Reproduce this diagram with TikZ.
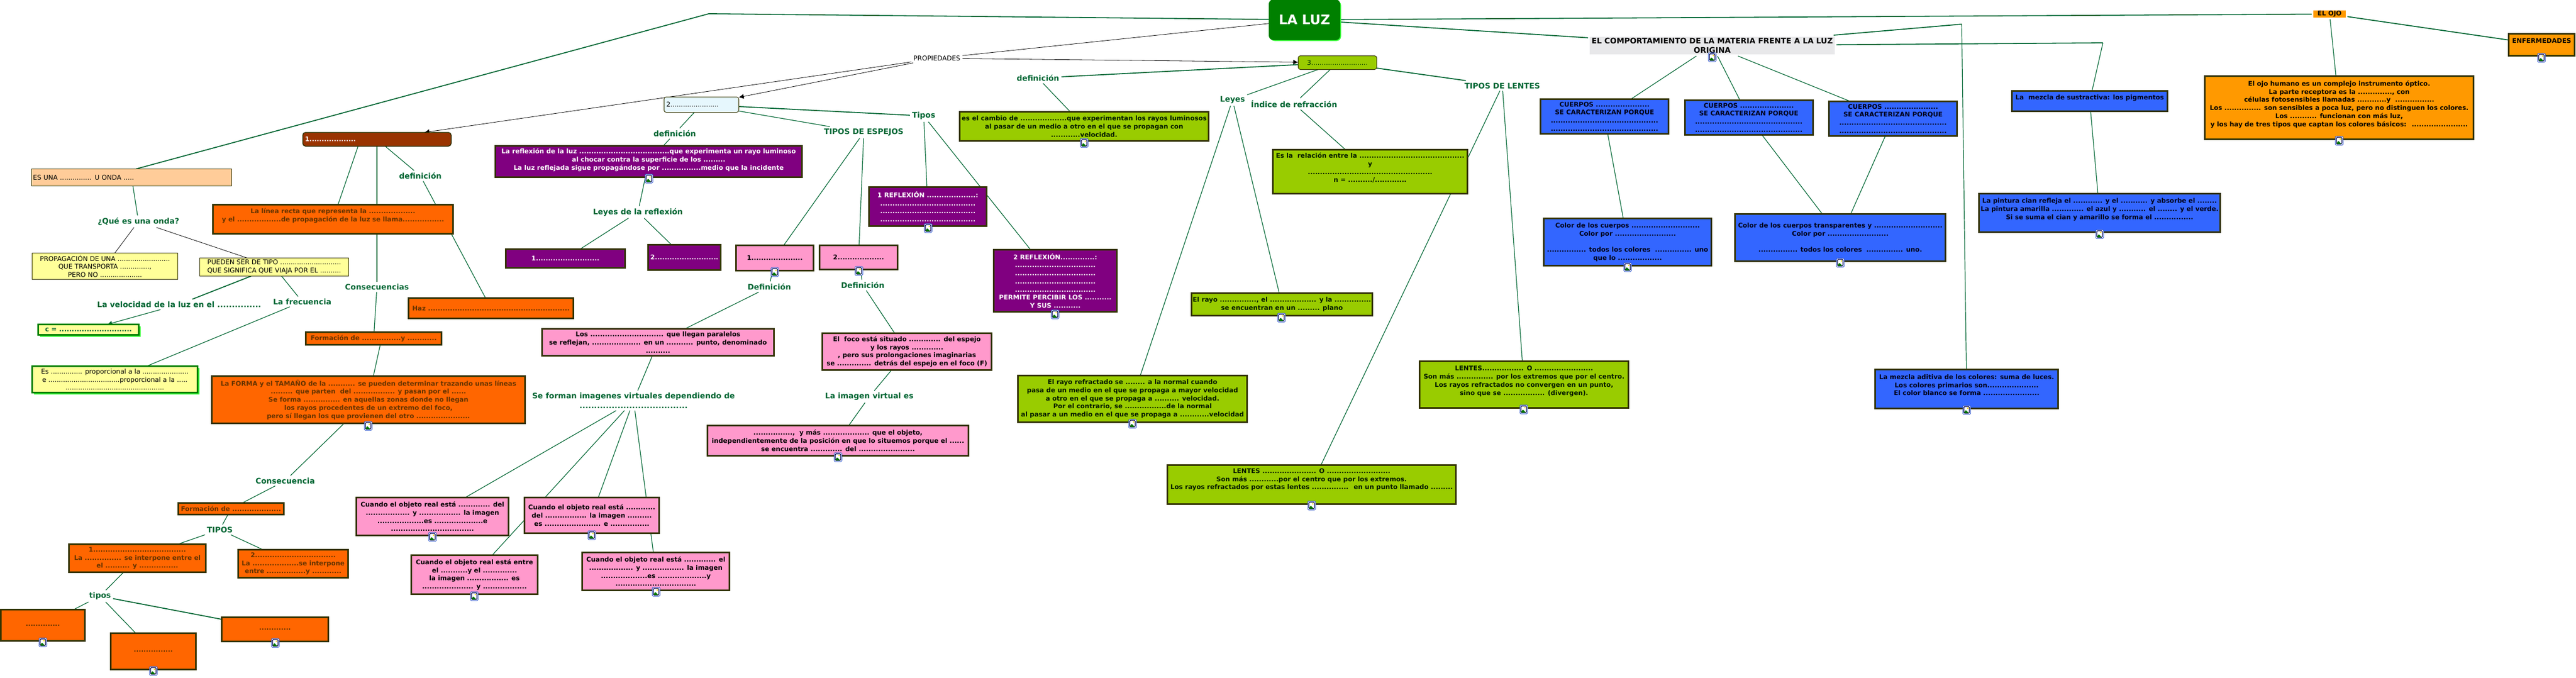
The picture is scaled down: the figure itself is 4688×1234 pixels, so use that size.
\documentclass[tikz,border=0pt]{standalone}
\usepackage{fontspec}
\setmainfont{DejaVu Sans}
\usetikzlibrary{arrows.meta,shadows}
\definecolor{borde}{HTML}{333300}
\definecolor{verdeos}{HTML}{006633}
\definecolor{naranjaf}{HTML}{FF6600}
\definecolor{marronf}{HTML}{663300}
\definecolor{moradof}{HTML}{800080}
\definecolor{rosaf}{HTML}{FF99CC}
\definecolor{limaf}{HTML}{99CC00}
\definecolor{azulf}{HTML}{3366FF}
\definecolor{ambarf}{HTML}{FF9900}
\definecolor{amarillof}{HTML}{FFFF99}
\definecolor{durazno}{HTML}{FFCC99}
\definecolor{ladrillo}{HTML}{993300}
\definecolor{verdeluz}{HTML}{008000}
\definecolor{sombra}{HTML}{33FF33}
\definecolor{grisf}{HTML}{E8E8EA}
\pgfdeclarelayer{fondo}
\pgfsetlayers{fondo,main}
\tikzset{
  tam/.style 2 args={minimum width=#1pt,minimum height=#2pt},
  caja/.style={draw=borde,line width=3pt,rectangle,inner sep=0pt,outer sep=0pt,align=center,
    font=\fontsize{11.7}{14.7}\selectfont\bfseries},
  naranja/.style={caja,fill=naranjaf,text=marronf},
  morado/.style={caja,fill=moradof,text=white},
  rosa/.style={caja,fill=rosaf,text=black},
  lima/.style={caja,fill=limaf,text=black!90!green},
  azul/.style={caja,fill=azulf,text=black!90!blue},
  ambar/.style={caja,fill=ambarf,text=black},
  amarillo/.style={caja,fill=amarillof,text=black,line width=1pt,font=\fontsize{12}{14.7}\selectfont},
  verdosa/.style={amarillo,draw=verdeluz,line width=3pt,
    drop shadow={shadow xshift=3pt,shadow yshift=-3pt,fill=sombra,opacity=1}},
  etiqueta/.style={text=verdeos,inner sep=1pt,outer sep=3pt,align=center,
    font=\fontsize{14}{18}\selectfont\bfseries},
  linea/.style={draw=verdeos,line width=1.2pt},
  lineag/.style={draw=verdeos,line width=1.8pt},
  negra/.style={draw=black,line width=.8pt},
  flecha/.style={-{Latex[length=9pt,width=9pt]}},
  icono/.style={draw=azulf!80!black,line width=1pt,fill=white,rectangle,rounded corners=1.5pt,
    minimum width=14pt,minimum height=16pt,inner sep=0pt,
    path picture={
      \draw[black!70!blue,line width=1.2pt] ([shift={(2pt,2pt)}]path picture bounding box.south west)
        rectangle ([shift={(-2pt,-2pt)}]path picture bounding box.north east);
      \fill[green!45!black] ([shift={(2pt,2pt)}]path picture bounding box.south west) -- ++(3pt,6pt) -- ++(2pt,-2pt) -- ++(4pt,-4pt) -- cycle;
      \fill[yellow!80!orange] ([shift={(2pt,-5pt)}]path picture bounding box.north) circle (1.5pt);
    }},
}

\begin{document}
\begin{tikzpicture}[x=1pt,y=-1pt]
  \useasboundingbox (0,0) rectangle (4688,1234);

  % centro
  \node[caja,fill=verdeluz,draw=verdeluz,line width=1pt,rounded corners=8pt,text=white,tam={129}{73},
    font=\fontsize{24}{28}\selectfont\bfseries,
    drop shadow={shadow xshift=2pt,shadow yshift=-2pt,fill=sombra,opacity=1}] (luz) at (2374,36) {LA LUZ};
  \node[inner sep=1pt,outer sep=3pt,font=\fontsize{12}{14}\selectfont] (prop) at (1705,106) {PROPIEDADES};
  \coordinate (esqizq) at (1290,25);

  % ondas
  \node[amarillo,fill=durazno,tam={364}{31},text width=359pt,align=left] (peach) at (239.5,323) {ES UNA ............... U ONDA .....};
  \node[etiqueta] (qonda) at (252,403) {¿Qué es una onda?};
  \node[amarillo,tam={265}{48}] (propa) at (191,484.5) {PROPAGACIÓN DE UNA .........................\\QUE TRANSPORTA ..............,\\PERO NO ....................};
  \node[amarillo,tam={271}{33}] (pueden) at (499,486) {PUEDEN SER DE TIPO .............................\\QUE SIGNIFICA QUE VIAJA POR EL ..........};
  \node[etiqueta] (velo) at (326,554) {La velocidad de la luz en el ...............};
  \node[etiqueta] (frec) at (550,549) {La frecuencia};
  \node[verdosa,tam={183}{19},text=verdeos,font=\fontsize{12}{14.7}\selectfont\bfseries] (cvel) at (161,600) {c = .............................};
  \node[verdosa,tam={301}{48}] (espro) at (209,690.5) {Es ............... proporcional a la ......................\\e ..................................proporcional a la .....\\...............................................};

  % propagacion
  \node[caja,fill=ladrillo,text=white,line width=1.5pt,rounded corners=5pt,tam={270}{25},text width=262pt,align=left] (maroon) at (686,253.5) {1...................};
  \node[etiqueta] (defa) at (765,320) {definición};
  \node[naranja,tam={437}{53}] (linearecta) at (606,399) {La línea recta que representa la ...................\\y el ..................de propagación de la luz se llama.................\\~};
  \node[naranja,tam={300}{37}] (haz) at (893.5,561) {Haz ..........................................................};
  \node[etiqueta] (conses) at (686,522) {Consecuencias};
  \node[naranja,tam={247}{23}] (form1) at (680,616) {Formación de ................y ............};
  \node[naranja,tam={570}{86}] (forma) at (670.5,727.5) {La FORMA y el TAMAÑO de la ........... se pueden determinar trazando unas líneas\\......... que parten~ del ................. y pasan por el ......\\Se forma ............... en aquellas zonas donde no llegan\\los rayos procedentes de un extremo del foco,\\pero sí llegan los que provienen del otro ......................};
  \node[etiqueta] (conse) at (519,875) {Consecuencia};
  \node[naranja,tam={192}{21}] (form2) at (420.5,926) {Formación de ....................};
  \node[etiqueta] (tipoa) at (400,964) {TIPOS};
  \node[naranja,tam={249}{51}] (tipo1) at (250,1016) {1......................................\\La ............... se interpone entre el\\el .......... y ................};
  \node[naranja,tam={200}{51}] (tipo2) at (533.5,1026) {2.................................\\La ...................se interpone\\entre ................y ............};
  \node[etiqueta] (tipob) at (182,1085) {tipos};
  \node[naranja,tam={153}{57}] (ta) at (78,1138) {..............};
  \node[naranja,tam={155}{66}] (tb) at (279,1185.5) {................};
  \node[naranja,tam={194}{44}] (tc) at (500.5,1145.5) {.............};

  % reflexion
  \node[caja,fill=white!90!cyan,line width=1pt,rounded corners=4pt,text=black,tam={136}{28},text width=128pt,align=left,
    font=\fontsize{12}{14.7}\selectfont] (luzdos) at (1276.5,190.5) {2.......................};
  \node[etiqueta] (defb) at (1228,243) {definición};
  \node[morado,tam={558}{57}] (reflex) at (1180.5,294) {La reflexión de la luz .....................................que experimenta un rayo luminoso\\al chocar contra la superficie de los .........\\La luz reflejada sigue propagándose por ................medio que la incidente\\[-6pt]~};
  \node[etiqueta] (leyesr) at (1161,386) {Leyes de la reflexión};
  \node[morado,tam={217}{34}] (ley1) at (1029,470.5) {1..........................};
  \node[morado,tam={132}{46}] (ley2) at (1245.5,468.5) {2..........................};
  \node[etiqueta] (espejos) at (1572,241) {TIPOS DE ESPEJOS};
  \node[etiqueta] (tipose) at (1681,211) {Tipos};
  \node[rosa,tam={141}{46}] (esp1) at (1410,469.5) {1.....................};
  \node[rosa,tam={142}{44}] (esp2) at (1562.5,468.5) {2...................};
  \node[etiqueta] (defc) at (1400,522) {Definición};
  \node[etiqueta] (defd) at (1570,519) {Definición};
  \node[rosa,tam={422}{49}] (los) at (1197.5,623) {Los .............................. que llegan paralelos\\se reflejan, .................... en un ........... punto, denominado\\..........};
  \node[rosa,tam={308}{67}] (foco) at (1650.5,640) {El~ foco está situado ............. del espejo\\y los rayos .............\\, pero sus prolongaciones imaginarias\\se .............. detrás del espejo en el foco (F)};
  \node[etiqueta] (forman) at (1153,729) {Se forman imagenes virtuales dependiendo de\\.....................................};
  \node[etiqueta] (imagen) at (1582,722) {La imagen virtual es};
  \node[rosa,tam={475}{55}] (ymas) at (1525,802) {................,~ y más ................... que el objeto,\\independientemente de la posición en que lo situemos porque el ......\\se encuentra ............. del .......................};
  \node[rosa,tam={277}{69}] (cua1) at (787,940) {Cuando el objeto real está ............. del\\.................. y ................. la imagen\\...................es ....................e\\..................................};
  \node[rosa,tam={230}{71}] (cua2) at (863.5,1046) {Cuando el objeto real está entre\\el ...........y el ..............\\la imagen ................. es\\..................... y ..................};
  \node[rosa,tam={245}{65}] (cua3) at (1077,938) {Cuando el objeto real está ............\\del ................. la imagen ..........\\es ....................... e ................};
  \node[rosa,tam={268}{69}] (cua4) at (1193.5,1040) {Cuando el objeto real está ............. el\\.................. y ................. la imagen\\...................es ....................y\\.................................};
  \node[morado,tam={214}{71}] (ref1) at (1688.5,376) {1 REFLEXIÓN ....................:\\.......................................\\.......................................\\.......................................};
  \node[morado,tam={224}{113}] (ref2) at (1920.5,511) {2 REFLEXIÓN..............:\\.................................\\.................................\\.................................\\.................................\\PERMITE PERCIBIR LOS ...........\\Y SUS ...........};

  % refraccion
  \node[caja,fill=limaf,line width=1pt,rounded corners=4pt,text=black!80!green,tam={143}{25},
    font=\fontsize{12}{14.7}\selectfont] (tres) at (2434,114) {3...........................};
  \node[etiqueta] (defe) at (1889,142) {definición};
  \node[lima,tam={453}{53}] (cambio) at (1973,230) {es el cambio de ...................que experimentan los rayos luminosos\\al pasar de un medio a otro en el que se propagan con\\............velocidad.};
  \node[etiqueta] (leyesl) at (2243,182) {Leyes};
  \node[etiqueta] (indice) at (2355,189) {Índice de refracción};
  \node[lima,tam={354}{80}] (rela) at (2493.5,312.5) {Es la~ relación entre la ...........................................\\y\\...................................................\\n = ........../.............\\~};
  \node[lima,tam={329}{41}] (rayo) at (2333,554) {El rayo ..............., el ................... y la ...............\\se encuentran en un ......... plano};
  \node[lima,tam={417}{85}] (refrac) at (2061,726) {El rayo refractado se ........ a la normal cuando\\pasa de un medio en el que se propaga a mayor velocidad\\a otro en el que se propaga a .......... velocidad.\\Por el contrario, se .................de la normal\\al pasar a un medio en el que se propaga a ............velocidad};
  \node[etiqueta] (lentes) at (2734,156) {TIPOS DE LENTES};
  \node[lima,tam={525}{71}] (lconv) at (2387,882) {LENTES ...................... O ..........................\\Son más ............por el centro que por los extremos.\\Los rayos refractados por estas lentes ...............~ en un punto llamado .........\\[6pt]~};
  \node[lima,tam={380}{85}] (ldiv) at (2773.5,700) {LENTES................. O ........................\\Son más ............... por los extremos que por el centro.\\Los rayos refractados no convergen en un punto,\\sino que se ................. (divergen).\\~};

  % materia
  \node[caja,draw=none,fill=grisf,outer sep=3pt,text=black,tam={446}{32},
    font=\fontsize{14}{17}\selectfont\bfseries] (comp) at (3116,83) {EL COMPORTAMIENTO DE LA MATERIA FRENTE A LA LUZ\\ORIGINA};
  \foreach \nom/\px/\py in {cue1/2920/212,cue2/3182.5/214,cue3/3445/216}
    \node[azul,tam={233}{63}] (\nom) at (\px,\py) {CUERPOS ......................\\SE CARACTERIZAN PORQUE\\............................................\\............................................};
  \node[azul,tam={305}{86}] (col1) at (2962,440.5) {Color de los cuerpos ............................\\Color por .........................\\~\\................ todos los colores~ ............... uno\\que lo ..................};
  \node[azul,tam={383}{86}] (col2) at (3349,432.5) {Color de los cuerpos transparentes y ............................\\Color por .........................\\~\\................ todos los colores~ ............... uno.};
  \coordinate (esqmez) at (3570,44);
  \coordinate (esqsust) at (3827,78);
  \node[azul,tam={283}{37}] (sust) at (3803,184) {La~ mezcla de sustractiva: los pigmentos\\~};
  \node[azul,tam={439}{70}] (pint) at (3821,387.5) {La pintura cian refleja el ............ y el ........... y absorbe el ........\\La pintura amarilla ............. el azul y ........... el ........ y el verde.\\Si se suma el cian y amarillo se forma el ................\\~};
  \node[azul,tam={333}{71}] (adit) at (3579,708) {La mezcla aditiva de los colores: suma de luces.\\Los colores primarios son.....................\\El color blanco se forma .......................\\~};

  % ojo
  \node[caja,draw=none,fill=ambarf,outer sep=3pt,text=black,tam={59}{13}] (ojo) at (4239.5,25.5) {EL OJO};
  \node[ambar,tam={489}{115}] (humano) at (4257,196) {El ojo humano es un complejo instrumento óptico.\\La parte receptora es la .............., con\\células fotosensibles llamadas ............y~ ................\\Los ............... son sensibles a poca luz, pero no distinguen los colores.\\Los ........... funcionan con más luz,\\y los hay de tres tipos que captan los colores básicos:~ .......................\\~};
  \node[ambar,tam={120}{40}] (enf) at (4625.5,81.5) {ENFERMEDADES\\~};

  % iconos
  \foreach \px/\py [count=\n] in {670/775,78/1169,279/1221,501/1170,787/977,863/1085,1077/974,1194/1077,1525/832,
    1181/325,1410/495,1563/493,1689/415,1920/572,1973/260,2332/578,2061/771,2773/745,2387/920,
    3116/104,2962/486,3349/478,3821/426,3579/746,4257/256,4625/105}
    \node[icono] (ic\n) at (\px,\py) {};

  % conectores
  \begin{pgfonlayer}{fondo}
    \draw[lineag] (luz) -- (esqizq) -- ([xshift=8pt]peach.north);
    \draw[lineag] (luz) -- (comp);
    \draw[lineag] (luz) -- (ojo);
    \draw[negra] (luz) -- (prop);
    \draw[negra,flecha] (prop) -- (tres);
    \draw[negra,flecha] (prop) -- (luzdos);
    \draw[negra,flecha] (prop) -- (maroon);
    \draw[linea] (peach) -- (qonda);
    \draw[negra] (qonda) -- (propa);
    \draw[negra] (qonda) -- (pueden);
    \draw[lineag] (pueden) -- (velo);
    \draw[linea,flecha] (velo) -- (cvel);
    \draw[linea] (pueden) -- (frec);
    \draw[linea] (frec) -- (espro);
    \draw[linea] ([xshift=-30pt]maroon.center) -- (linearecta);
    \draw[linea] (maroon) -- (conses);
    \draw[linea] (maroon) -- (defa);
    \draw[linea] (defa) -- (haz);
    \draw[linea] (conses) -- (form1);
    \draw[linea] ([xshift=12pt]form1.south) -- ([xshift=9pt]forma.north);
    \draw[linea] (forma) -- (conse);
    \draw[linea] (conse) -- (form2);
    \draw[linea] (form2) -- (tipoa);
    \draw[linea] (tipoa) -- (tipo1);
    \draw[linea] (tipoa) -- (tipo2);
    \draw[linea] (tipo1) -- (tipob);
    \draw[linea] (tipob) -- (ta);
    \draw[linea] (tipob) -- (tb);
    \draw[lineag] (tipob) -- (tc);
    \draw[linea] (luzdos) -- (defb);
    \draw[linea] (defb) -- (reflex);
    \draw[linea] (reflex) -- (leyesr);
    \draw[linea] (leyesr) -- (ley1);
    \draw[linea] (leyesr) -- (ley2);
    \draw[linea] (luzdos) -- (espejos);
    \draw[lineag] (luzdos) -- (tipose);
    \draw[linea] (espejos) -- (esp1);
    \draw[linea] (espejos) -- (esp2);
    \draw[linea] (tipose) -- (ref1);
    \draw[linea] (tipose) -- (ref2);
    \draw[linea] (esp1) -- (defc);
    \draw[linea] (esp2) -- (defd);
    \draw[linea] (defc) -- (los);
    \draw[linea] (defd) -- (foco);
    \draw[linea] (los) -- (forman);
    \draw[linea] (foco) -- (imagen);
    \draw[linea] (imagen) -- (ymas);
    \draw[linea] (forman) -- (cua1);
    \draw[linea] (forman) -- (cua2);
    \draw[linea] (forman) -- (cua3);
    \draw[linea] (forman) -- (cua4);
    \draw[lineag] (tres) -- (defe);
    \draw[linea] (defe) -- (cambio);
    \draw[linea] (tres) -- (leyesl);
    \draw[linea] (tres) -- (indice);
    \draw[lineag] (tres) -- (lentes);
    \draw[linea] (leyesl) -- (refrac);
    \draw[linea] (leyesl) -- (rayo);
    \draw[linea] (indice) -- (rela);
    \draw[linea] (lentes) -- (lconv);
    \draw[linea] (lentes) -- (ldiv);
    \draw[lineag] (comp) -- (esqmez);
    \draw[linea] (esqmez) -- (adit);
    \draw[lineag] (comp) -- (esqsust);
    \draw[linea] (esqsust) -- (sust);
    \draw[linea] (sust) -- (pint);
    \draw[linea] (comp) -- (cue1);
    \draw[linea] (comp) -- (cue2);
    \draw[linea] (comp) -- (cue3);
    \draw[linea] (cue1) -- (col1);
    \draw[linea] (cue2) -- (col2);
    \draw[linea] (cue3) -- (col2);
    \draw[linea] (ojo) -- (humano);
    \draw[lineag] (ojo) -- (enf);
  \end{pgfonlayer}
\end{tikzpicture}
\end{document}
